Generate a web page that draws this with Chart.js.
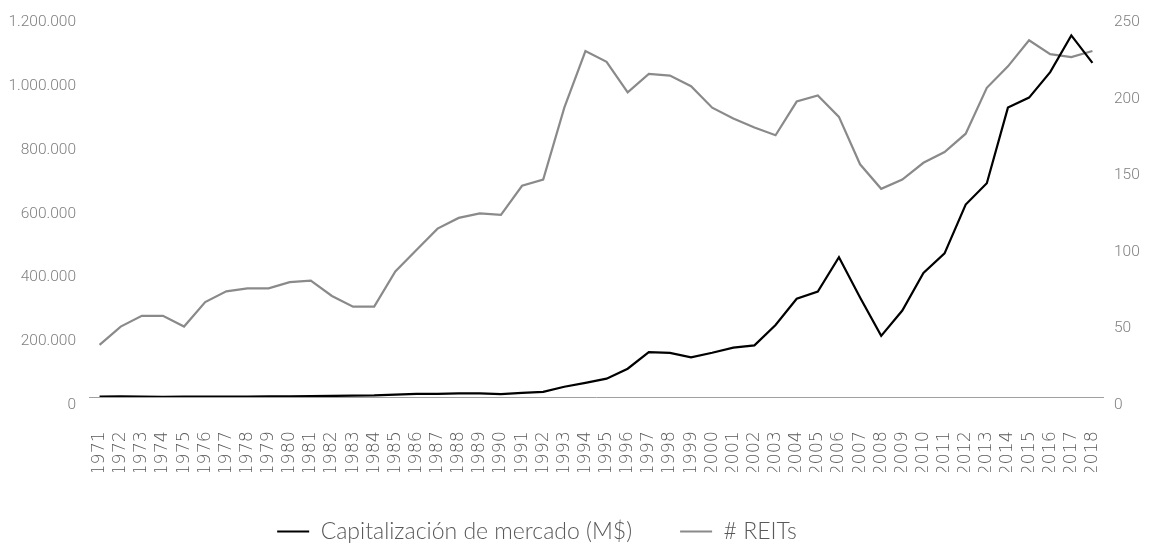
<!DOCTYPE html>
<html>
<head>
<meta charset="utf-8">
<script src="https://cdn.jsdelivr.net/npm/chart.js@4.4.0/dist/chart.umd.min.js"></script>
<style>
    body { margin: 0; background: #fff; }
    #wrap { width: 1150px; height: 548px; }
</style>
</head>
<body>
<div id="wrap"><canvas id="reitChart"></canvas></div>
<script>
const years = ['1971','1972','1973','1974','1975','1976','1977','1978','1979','1980',
    '1981','1982','1983','1984','1985','1986','1987','1988','1989','1990',
    '1991','1992','1993','1994','1995','1996','1997','1998','1999','2000',
    '2001','2002','2003','2004','2005','2006','2007','2008','2009','2010',
    '2011','2012','2013','2014','2015','2016','2017','2018'];

// capitalizacion de mercado, millones de $
const marketCap = [1494, 1881, 1394, 712, 900, 1308, 1528, 1412, 1754, 2299,
    2439, 3299, 4257, 5085, 7674, 9924, 9702, 11435, 11662, 8737,
    12968, 15912, 32159, 44306, 57541, 88776, 140534, 138301, 124262, 138715,
    154899, 161937, 226000, 307895, 330691, 438071, 312009, 191651, 271199, 389295,
    450501, 603415, 670334, 907429, 938852, 1018730, 1133698, 1047641];

// numero de REITs
const reitCount = [34, 46, 53, 53, 46, 62, 69, 71, 71, 75,
    76, 66, 59, 59, 82, 96, 110, 117, 120, 119,
    138, 142, 189, 226, 219, 199, 211, 210, 203, 189,
    182, 176, 171, 193, 197, 183, 152, 136, 142, 153,
    160, 172, 202, 216, 233, 224, 222, 226];

const leftTicks = [0, 200000, 400000, 600000, 800000, 1000000, 1200000];
const rightTicks = [0, 50, 100, 150, 200, 250];

const lightFont = { family: 'Roboto, Lato, sans-serif', size: 15.5, weight: '300' };

// la leyenda no va centrada del todo, la corro un poco a la izquierda
const legendShift = {
    id: 'legendShift',
    afterLayout(chart) {
        if (chart.legend) {
            chart.legend.left -= 38;
            chart.legend.right -= 38;
        }
    }
};

new Chart(document.getElementById('reitChart').getContext('2d'), {
    type: 'line',
    data: {
        labels: years,
        datasets: [
            {
                label: 'Capitalización de mercado (M$)',
                data: marketCap,
                yAxisID: 'yCap',
                borderColor: '#000000',
                backgroundColor: '#000000',
                borderWidth: 2.2,
                pointRadius: 0,
                tension: 0
            },
            {
                label: '# REITs',
                data: reitCount,
                yAxisID: 'yReit',
                borderColor: '#8a8a8a',
                backgroundColor: '#8a8a8a',
                borderWidth: 2.2,
                pointRadius: 0,
                tension: 0
            }
        ]
    },
    plugins: [legendShift],
    options: {
        responsive: true,
        maintainAspectRatio: false,
        animation: false,
        layout: { padding: { top: 14, left: 0, right: 0, bottom: 0 } },
        plugins: {
            tooltip: { enabled: false },
            legend: {
                position: 'bottom',
                maxHeight: 76,
                labels: {
                    boxWidth: 32,
                    boxHeight: 2,
                    padding: 48,
                    color: '#595959',
                    font: { family: 'Lato, "Open Sans", sans-serif', size: 23, weight: '300' },
                    generateLabels: function(chart) {
                        const items = Chart.defaults.plugins.legend.labels.generateLabels(chart);
                        items.forEach(it => { it.lineWidth = 0; });
                        return items;
                    }
                }
            }
        },
        scales: {
            x: {
                offset: true,
                grid: { display: false },
                border: { display: true, color: '#a0a0a0', width: 1 },
                ticks: {
                    autoSkip: false,
                    minRotation: 90,
                    maxRotation: 90,
                    padding: 26,
                    color: '#595959',
                    font: { family: '"DejaVu Sans", sans-serif', size: 17.5, weight: '200' }
                },
                afterFit: function(scale) { scale.height = 75; }
            },
            yCap: {
                position: 'left',
                min: 0,
                max: 1200000,
                grid: { display: false },
                border: { display: false },
                afterBuildTicks: function(scale) { scale.ticks = leftTicks.map(v => ({ value: v })); },
                ticks: {
                    padding: 5,
                    labelOffset: 8,
                    color: '#7f7f7f',
                    font: lightFont,
                    callback: v => v.toLocaleString('de-DE')
                },
                afterFit: function(scale) { scale.width = 89; }
            },
            yReit: {
                position: 'right',
                min: 0,
                max: 250,
                grid: { display: false },
                border: { display: false },
                afterBuildTicks: function(scale) { scale.ticks = rightTicks.map(v => ({ value: v })); },
                ticks: {
                    padding: 3,
                    labelOffset: 8,
                    color: '#7f7f7f',
                    font: lightFont
                },
                afterFit: function(scale) { scale.width = 47; }
            }
        }
    }
});
</script>
</body>
</html>
